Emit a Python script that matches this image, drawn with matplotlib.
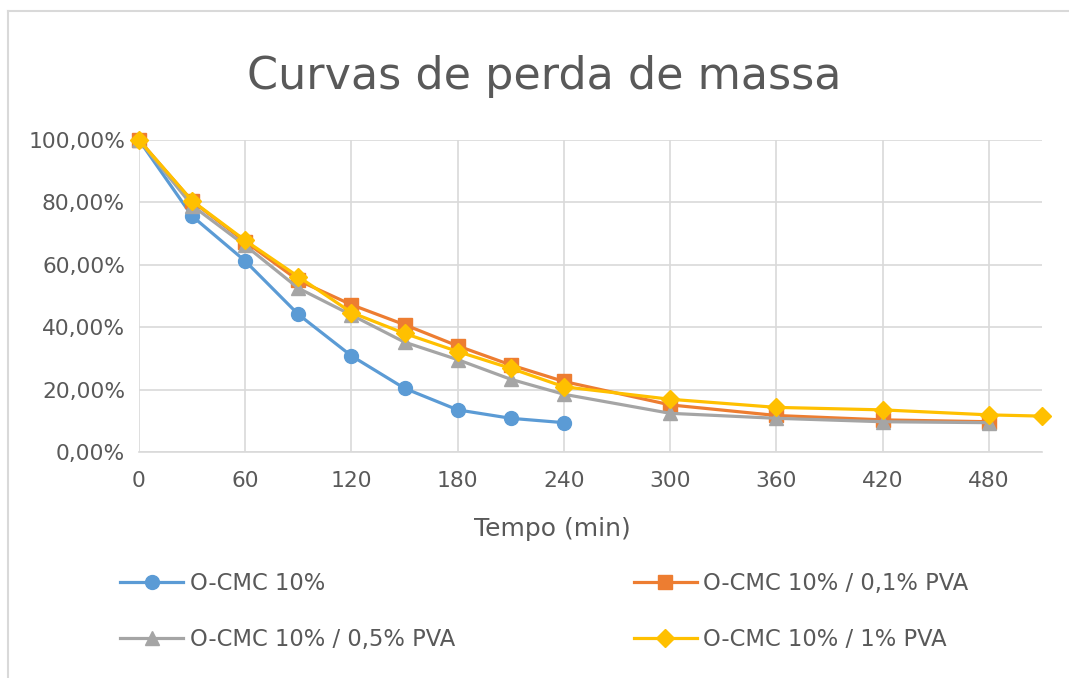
import matplotlib
matplotlib.use("Agg")
import matplotlib.pyplot as plt
from matplotlib.lines import Line2D

plt.rcParams['font.family'] = ['DejaVu Sans']

title = "Curvas de perda de massa"
xlabel = "Tempo (min)"
xticks = [0, 60, 120, 180, 240, 300, 360, 420, 480]
yticks = [0.0, 0.2, 0.4, 0.6, 0.8, 1.0]
ytick_labels = ["0,00%", "20,00%", "40,00%", "60,00%", "80,00%", "100,00%"]

t_cmc = [0, 30, 60, 90, 120, 150, 180, 210, 240]
cmc = [1.00, 0.756, 0.612, 0.441, 0.308, 0.204, 0.135, 0.108, 0.094]

t_pva01 = [0, 30, 60, 90, 120, 150, 180, 210, 240, 300, 360, 420, 480]
pva01 = [1.00, 0.804, 0.674, 0.550, 0.472, 0.408, 0.340, 0.279, 0.226, 0.151, 0.117, 0.103, 0.097]

t_pva05 = [0, 30, 60, 90, 120, 150, 180, 210, 240, 300, 360, 420, 480]
pva05 = [1.00, 0.790, 0.662, 0.525, 0.439, 0.352, 0.296, 0.233, 0.185, 0.124, 0.108, 0.097, 0.094]

t_pva1 = [0, 30, 60, 90, 120, 150, 180, 210, 240, 300, 360, 420, 480, 510]
pva1 = [1.00, 0.805, 0.678, 0.562, 0.447, 0.380, 0.322, 0.268, 0.209, 0.169, 0.143, 0.135, 0.119, 0.115]

labels = ["O-CMC 10%", "O-CMC 10% / 0,1% PVA", "O-CMC 10% / 0,5% PVA", "O-CMC 10% / 1% PVA"]
colors = ["#5B9BD5", "#ED7D31", "#A5A5A5", "#FFC000"]
markers = ["o", "s", "^", "D"]
msizes = [10, 10, 10, 9]

W, H = 1069, 678
fig = plt.figure(figsize=(W / 100, H / 100), dpi=100)
fig.lines.append(Line2D([8 / W, 1.0], [1 - 11 / H, 1 - 11 / H], transform=fig.transFigure,
                        color="#D9D9D9", linewidth=1.5))
fig.lines.append(Line2D([8 / W, 8 / W], [0, 1 - 11 / H], transform=fig.transFigure,
                        color="#D9D9D9", linewidth=1.5))

ax = fig.add_axes([139 / W, 1 - 452 / H, (1042 - 139) / W, (452 - 140) / H])

series = [(t_cmc, cmc), (t_pva01, pva01), (t_pva05, pva05), (t_pva1, pva1)]
handles = []
for (t, v), lab, c, m, ms in zip(series, labels, colors, markers, msizes):
    h, = ax.plot(t, v, color=c, marker=m, markersize=ms, linewidth=2.3, label=lab,
                 markeredgecolor=c, clip_on=False, zorder=3)
    handles.append(h)

ax.set_xlim(0, 510)
ax.set_ylim(0, 1.0)
ax.set_xticks(xticks)
ax.set_xticklabels([str(x) for x in xticks])
ax.set_yticks(yticks)
ax.set_yticklabels(ytick_labels)
ax.grid(True, color="#D9D9D9", linewidth=1.2)
ax.set_axisbelow(True)
for s in ["top", "right", "left"]:
    ax.spines[s].set_visible(False)
ax.spines["bottom"].set_color("#D9D9D9")
ax.spines["bottom"].set_linewidth(1.2)
ax.tick_params(axis="both", length=0, labelsize=15.7, colors="#595959")
ax.tick_params(axis="y", pad=10)
ax.tick_params(axis="x", pad=14)

fig.text(552 / W, 1 - 529 / H, xlabel, ha="center", va="center", fontsize=18, color="#595959")
fig.text(544 / W, 1 - 76 / H, title, ha="center", va="center", fontsize=32, color="#595959")

order = [0, 2, 1, 3]
leg = fig.legend([handles[i] for i in order], [labels[i] for i in order], ncol=2,
                 loc="upper left", bbox_to_anchor=(120 / W, 1 - 572 / H), frameon=False,
                 fontsize=16.3, handlelength=2.8, handletextpad=0.27, columnspacing=7.9,
                 labelspacing=1.45, borderaxespad=0, borderpad=0)
for tx in leg.get_texts():
    tx.set_color("#595959")

fig.savefig("out.png", dpi=100)
